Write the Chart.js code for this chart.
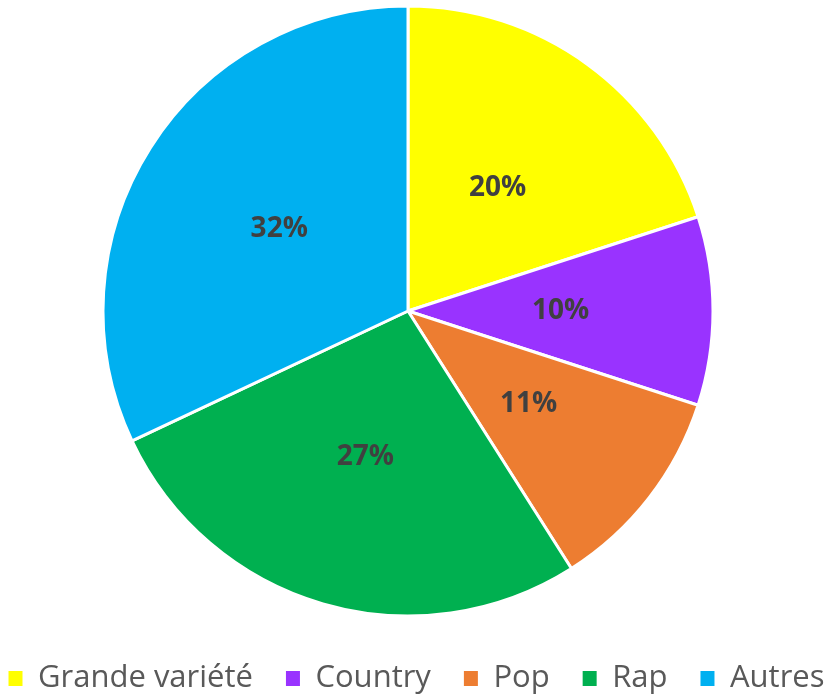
<!DOCTYPE html>
<html>
<head>
<meta charset="utf-8">
<script src="https://cdn.jsdelivr.net/npm/chart.js@4"></script>
<style>
  html, body { margin: 0; padding: 0; background: #fff; }
  #wrap { width: 827px; height: 696px; }
</style>
</head>
<body>
<div id="wrap"><canvas id="genreChart" width="827" height="696"></canvas></div>
<script>
// Données du graphique
const genres = ['Grande variété', 'Country', 'Pop', 'Rap', 'Autres'];
const parts = [20, 10, 11, 27, 32];
const couleurs = ['#FFFF00', '#9933FF', '#ED7D31', '#00B050', '#00B0F0'];

// Ajustements de mise en page + étiquettes de pourcentage au centre des parts
const etiquettesParts = {
    id: 'etiquettesParts',
    afterLayout(chart) {
        // zone du camembert : centre (408, 311)
        chart.chartArea.left = 0;
        chart.chartArea.right = 816;
        chart.chartArea.top = 0;
        chart.chartArea.bottom = 622;
        // légende un peu plus bas / à droite
        chart.legend.top += 8;
        chart.legend.bottom += 8;
        chart.legend.left += 3;
        chart.legend.right += 3;
    },
    afterDatasetsDraw(chart) {
        const ctx = chart.ctx;
        const meta = chart.getDatasetMeta(0);
        ctx.save();
        ctx.font = 'bold 28px "Open Sans"';
        ctx.fillStyle = '#404040';
        ctx.textAlign = 'center';
        ctx.textBaseline = 'middle';
        meta.data.forEach((arc, i) => {
            const pos = arc.tooltipPosition();
            ctx.fillText(parts[i] + '%', pos.x, pos.y);
        });
        ctx.restore();
    }
};

const ctx = document.getElementById('genreChart').getContext('2d');
new Chart(ctx, {
    type: 'pie',
    data: {
        labels: genres,
        datasets: [{
            data: parts,
            backgroundColor: couleurs,
            borderColor: '#ffffff',
            borderWidth: 3,
            radius: 305
        }]
    },
    options: {
        responsive: false,
        animation: false,
        layout: { padding: { top: 0, right: -30, bottom: 0, left: -30 } },
        plugins: {
            tooltip: { enabled: false },
            legend: {
                position: 'bottom',
                labels: {
                    boxWidth: 14,
                    boxHeight: 15,
                    padding: 33,
                    color: '#595959',
                    font: { family: '"Open Sans"', size: 31 },
                    generateLabels: chart =>
                        Chart.overrides.pie.plugins.legend.labels.generateLabels(chart)
                            .map(item => ({ ...item, lineWidth: 0 }))
                }
            }
        }
    },
    plugins: [etiquettesParts]
});
</script>
</body>
</html>
